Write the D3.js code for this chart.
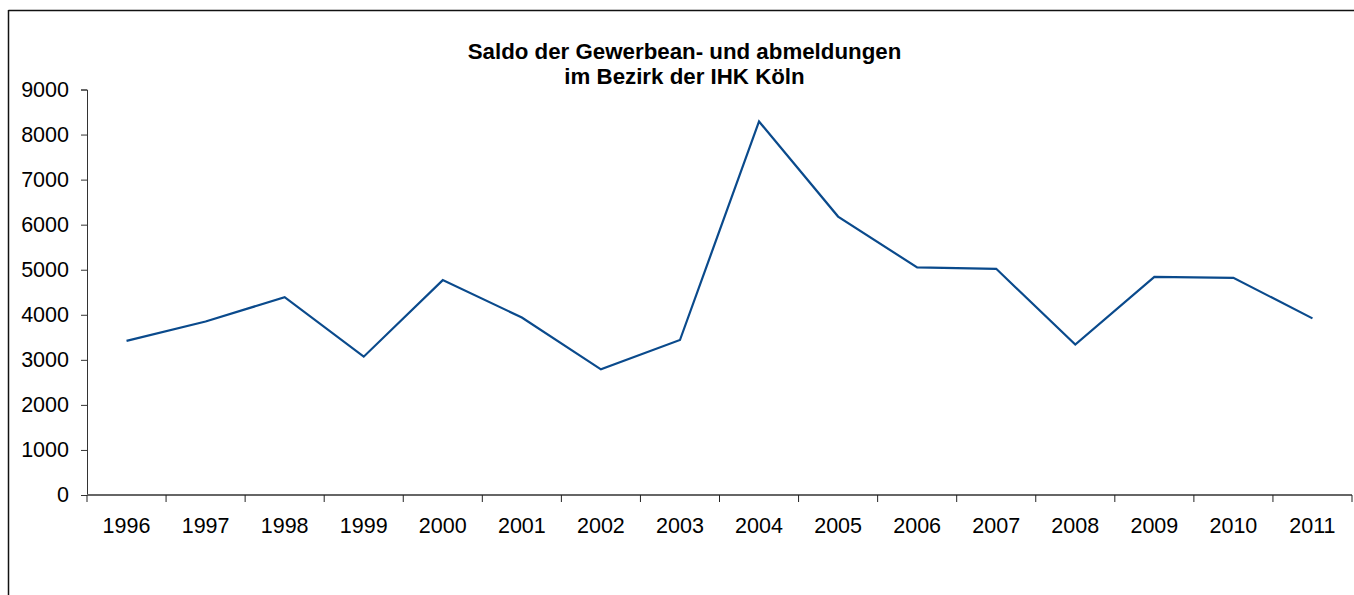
<!DOCTYPE html>
<html><head><meta charset="utf-8">
<script src="https://cdn.jsdelivr.net/npm/d3@7"></script>
<style>html,body{margin:0;padding:0;background:#fff;overflow:hidden}</style>
</head><body>
<svg id="c" width="1354" height="595"></svg>
<script>
const years = ["1996","1997","1998","1999","2000","2001","2002","2003","2004","2005","2006","2007","2008","2009","2010","2011"];
const saldo = [3420,3850,4390,3070,4770,3940,2790,3440,8290,6180,5050,5020,3340,4840,4820,3920];
const yTicks = [0,1000,2000,3000,4000,5000,6000,7000,8000,9000];
const titleLines = ["Saldo der Gewerbean- und abmeldungen","im Bezirk der IHK Köln"];

(function(){
const svg = d3.select("#c");
const font = "'Liberation Sans', Arial, sans-serif";
// frame
svg.append("line").attr("x1",8.5).attr("x2",1354).attr("y1",10.5).attr("y2",10.5).attr("stroke","#111").attr("stroke-width",1.5);
svg.append("line").attr("x1",8.5).attr("x2",8.5).attr("y1",10).attr("y2",595).attr("stroke","#111").attr("stroke-width",1.5);

const pl=87, pr=1352, pt=89.5, pb=495;
const x = d3.scaleBand().domain(years).range([pl,pr]);
const y = d3.scaleLinear().domain([0,9000]).range([pb,pt]);

// y axis
const ya = svg.append("g").attr("transform",`translate(${pl},0)`)
  .call(d3.axisLeft(y).tickValues(yTicks).tickSize(6).tickPadding(12).tickFormat(d3.format("d")));
ya.selectAll("path,line").attr("stroke","#333");
ya.selectAll("text").attr("font-family",font).attr("font-size",21.5).attr("fill","#000");

// x axis
const xa = svg.append("g").attr("transform",`translate(0,${pb})`);
xa.append("line").attr("x1",pl).attr("x2",pr).attr("y1",0).attr("y2",0).attr("stroke","#666").attr("stroke-width",2);
const bounds = years.map(d=>x(d)).concat([pr]);
xa.selectAll("line.t").data(bounds).join("line").attr("class","t")
  .attr("x1",d=>d).attr("x2",d=>d).attr("y1",0).attr("y2",7).attr("stroke","#222");
xa.selectAll("text").data(years).join("text")
  .attr("x",d=>x(d)+x.bandwidth()/2).attr("y",38)
  .attr("text-anchor","middle").attr("font-family",font).attr("font-size",21.5).attr("fill","#000").text(d=>d);

// line
const line = d3.line().x((d,i)=>x(years[i])+x.bandwidth()/2).y(d=>y(d));
svg.append("path").datum(saldo).attr("d",line).attr("fill","none")
  .attr("stroke","#0a4a8c").attr("stroke-width",2.2).attr("stroke-linejoin","miter");

// title
svg.append("text").attr("x",684.5).attr("y",59).attr("text-anchor","middle")
  .attr("font-family",font).attr("font-weight","bold").attr("font-size",22.3).attr("fill","#000")
  .selectAll("tspan").data(titleLines).join("tspan")
  .attr("x",684.5).attr("dy",(d,i)=>i?24.5:0).text(d=>d);
})();
</script>
</body></html>
